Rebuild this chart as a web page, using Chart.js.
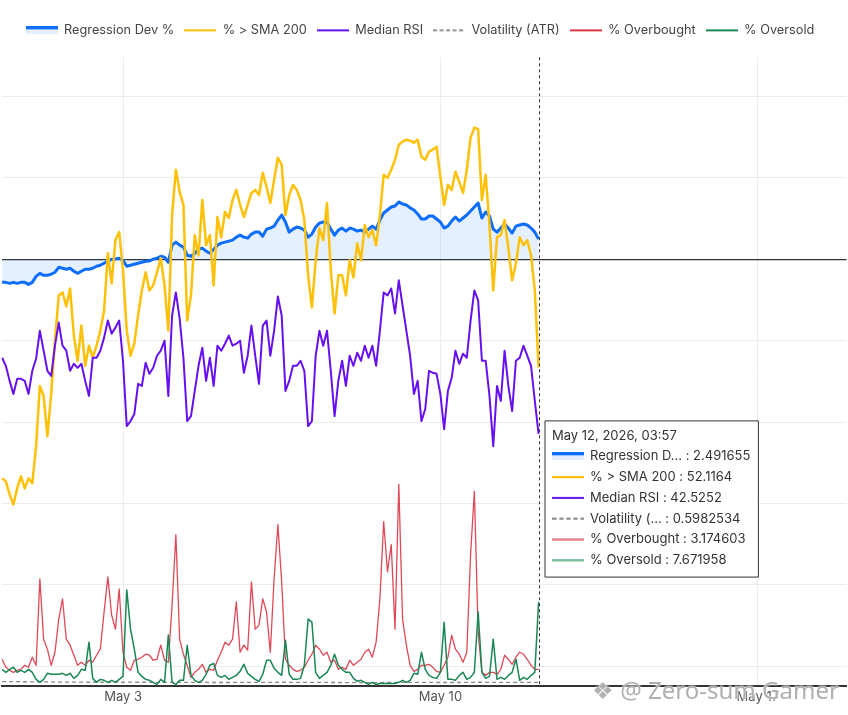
<!DOCTYPE html>
<html>
<head>
<meta charset="utf-8">
<script src="https://cdn.jsdelivr.net/npm/chart.js@4.4.1/dist/chart.umd.min.js"></script>
<style>
html,body{margin:0;padding:0;background:#fff;}
#wrap{position:relative;width:848px;height:715px;overflow:hidden;}
#wm{position:absolute;left:592px;top:673px;font:24px 'Noto Sans',sans-serif;color:rgba(150,150,150,0.75);
 text-shadow:0 0 2px #fff,0 0 2px #fff;pointer-events:none;white-space:nowrap;}
</style>
</head>
<body>
<div id="wrap"><canvas id="c" width="848" height="715"></canvas><div id="wm">❖ @ Zero-sum Gamer</div></div>
<script>
// ---- data (2-hour samples, minutes from May 1 00:00) ----
const startMinute = -963;      // Apr 30, 07:57
const stepMinutes = 120;
const xTickValues = [2880, 12960, 23040];
const xTickLabels = ['May 3', 'May 10', 'May 17'];
const yGridTicks = [-50, -40, -30, -20, -10, 0, 10, 20];

const regressionDev = [
 -2.84,-2.84,-2.96,-2.84,-2.96,-2.84,-2.84,-3.09,-2.84,-2.10,
 -1.73,-1.98,-1.98,-1.85,-1.60,-0.99,-1.11,-1.23,-1.11,-1.48,
 -1.73,-1.48,-1.23,-1.23,-1.11,-0.86,-0.74,-0.49,-0.25,0.00,
 0.02,0.12,-0.12,-0.86,-0.74,-0.62,-0.49,-0.37,-0.25,-0.22,
 0.01,0.12,0.37,0.25,-0.37,1.73,2.10,1.73,1.48,0.49,
 0.37,0.74,1.23,1.36,0.99,0.74,1.23,1.73,1.98,2.10,
 2.22,2.35,2.72,2.96,2.72,2.59,3.09,3.33,3.33,2.84,
 3.70,3.83,4.07,4.81,5.43,4.57,3.33,3.70,3.95,3.83,
 3.58,2.72,3.09,3.95,4.44,4.57,4.57,3.70,2.96,3.58,
 3.83,3.46,3.83,3.70,3.46,3.58,3.33,3.70,4.07,3.70,
 4.81,5.68,6.05,6.42,6.54,7.04,6.79,6.67,6.30,6.05,
 5.56,4.94,4.94,5.31,5.31,4.94,4.57,3.83,4.07,4.69,
 5.19,4.69,5.06,5.43,5.93,6.42,6.91,5.06,5.80,5.31,
 3.70,3.33,3.83,4.32,3.83,3.21,4.07,4.20,4.32,4.20,
 3.83,3.33,2.491655
];
const pctAboveSma200 = [
 36.07,35.64,33.75,32.29,34.62,36.36,34.62,36.07,35.35,40.73,
 49.45,48.00,42.18,48.29,56.00,62.55,62.98,60.95,63.56,56.73,
 53.09,58.18,52.36,55.27,53.53,55.27,57.45,60.36,68.65,64.29,
 70.55,71.71,66.18,57.45,53.82,55.56,59.64,63.27,65.89,63.27,
 64.00,65.89,67.93,64.00,57.45,74.18,80.73,77.53,75.64,58.91,
 62.55,71.27,68.36,76.36,69.82,71.27,64.00,73.89,70.98,74.62,
 73.75,76.36,77.82,75.64,73.89,75.64,77.38,77.82,77.09,80.29,
 78.25,75.93,79.27,82.47,81.45,74.18,77.09,78.55,77.82,76.36,
 73.45,65.45,60.80,67.64,72.29,70.55,75.93,66.18,59.93,65.45,
 65.45,62.55,67.64,65.16,70.11,67.64,72.73,70.98,72.00,69.82,
 74.18,80.00,79.56,80.73,82.18,84.36,84.80,85.09,84.95,84.65,
 85.09,82.62,82.18,83.35,83.64,84.07,79.71,75.64,78.55,77.82,
 80.44,78.98,77.38,80.73,85.38,86.84,86.60,76.36,80.00,72.73,
 63.27,70.98,71.27,73.45,69.38,64.73,67.20,70.98,69.82,70.55,
 68.36,63.27,52.1164
];
const medianRsi = [
 53.53,52.36,50.18,48.29,50.47,50.47,50.18,48.29,51.64,53.38,
 57.45,54.55,51.64,50.91,55.27,58.62,55.27,54.55,51.64,52.65,
 52.07,52.65,50.18,48.00,53.53,53.53,54.55,56.44,58.91,57.02,
 57.89,58.91,53.09,43.64,44.36,45.38,49.75,49.45,52.80,51.20,
 52.07,53.82,54.55,56.00,48.00,59.64,62.98,59.20,53.53,44.36,
 45.09,48.73,52.36,54.98,50.18,53.53,49.45,55.27,54.55,55.56,
 56.73,55.27,55.56,56.00,51.35,53.82,58.18,53.82,49.75,58.18,
 58.91,53.82,57.45,62.40,59.64,48.73,50.18,52.36,52.36,53.09,
 51.64,43.64,44.36,53.82,57.45,55.27,57.45,51.64,45.09,50.18,
 53.09,49.45,53.82,52.36,54.25,53.09,55.27,53.53,55.27,52.36,
 57.45,62.98,62.55,63.56,59.93,64.73,61.09,57.45,53.82,48.29,
 50.18,44.36,46.11,51.64,51.35,51.20,48.29,43.20,48.73,50.62,
 54.55,52.65,54.11,53.53,58.91,63.27,61.82,53.09,53.09,48.00,
 40.73,49.45,47.27,54.55,49.45,45.82,53.09,53.53,55.27,53.82,
 52.36,47.27,42.5252
];
const volatilityAtr = [
 0.72,0.71,0.71,0.70,0.70,0.69,0.69,0.68,0.68,0.67,
 0.67,0.66,0.66,0.66,0.65,0.65,0.65,0.64,0.64,0.64,
 0.63,0.63,0.63,0.62,0.62,0.62,0.62,0.61,0.61,0.61,
 0.61,0.62,0.62,0.63,0.63,0.63,0.62,0.62,0.62,0.61,
 0.61,0.61,0.60,0.60,0.60,0.61,0.62,0.62,0.61,0.61,
 0.60,0.60,0.59,0.59,0.59,0.58,0.58,0.58,0.58,0.58,
 0.58,0.58,0.59,0.59,0.59,0.59,0.60,0.60,0.60,0.61,
 0.61,0.61,0.61,0.62,0.62,0.62,0.61,0.61,0.60,0.60,
 0.60,0.60,0.60,0.59,0.59,0.59,0.59,0.58,0.58,0.58,
 0.57,0.57,0.57,0.57,0.56,0.56,0.56,0.56,0.56,0.56,
 0.57,0.58,0.59,0.60,0.60,0.61,0.61,0.61,0.60,0.60,
 0.60,0.59,0.59,0.59,0.59,0.58,0.58,0.58,0.58,0.58,
 0.58,0.58,0.59,0.59,0.60,0.61,0.62,0.62,0.61,0.61,
 0.61,0.60,0.60,0.60,0.60,0.60,0.60,0.60,0.60,0.60,
 0.60,0.60,0.5982534
];
const pctOverbought = [
 5.04,3.55,2.99,2.61,2.99,3.17,3.92,3.55,5.42,3.92,
 19.98,8.78,6.91,3.92,6.35,12.51,16.25,8.78,7.66,5.79,
 3.92,4.48,3.92,4.86,4.48,5.79,6.91,13.82,20.35,13.26,
 10.64,18.11,6.35,3.55,2.99,4.86,5.04,5.42,5.98,5.79,
 4.86,5.04,7.66,4.86,4.48,15.13,28.20,8.78,5.98,3.92,
 1.68,2.61,3.17,4.11,2.61,3.17,2.99,4.86,6.35,8.22,
 7.66,8.78,15.69,6.35,7.66,6.72,19.42,10.64,11.39,16.25,
 13.82,6.35,19.98,30.07,19.42,5.04,3.92,3.17,2.80,2.99,
 3.55,4.86,5.98,7.66,6.91,5.79,6.35,4.48,4.86,3.17,
 3.55,3.17,4.86,3.92,4.48,5.04,6.35,6.91,5.42,8.22,
 16.25,30.63,21.29,26.33,10.64,37.54,12.51,7.66,3.92,2.80,
 3.17,3.92,3.92,4.11,3.55,2.80,2.61,3.92,5.42,9.52,
 6.91,5.98,4.48,6.35,24.46,36.23,10.08,2.61,2.05,2.61,
 2.61,2.24,3.17,5.79,5.04,4.11,5.42,6.35,5.98,5.04,
 3.92,3.17,3.174603
];
const pctOversold = [
 1.55,1.28,1.55,1.74,1.28,1.46,1.28,1.55,1.28,0.64,
 0.37,0.64,1.19,1.10,1.10,1.10,1.19,1.00,1.19,0.73,
 1.00,1.55,1.46,4.02,0.73,0.37,0.64,0.55,0.37,0.55,
 0.37,0.64,0.91,8.77,5.21,3.38,1.28,0.91,0.64,0.55,
 0.37,0.18,0.64,0.37,4.66,0.37,0.18,0.55,0.55,3.74,
 1.00,0.55,0.37,0.55,1.10,1.92,2.10,1.00,0.82,1.00,
 0.64,0.82,1.00,1.37,2.01,1.19,0.91,0.64,0.46,1.10,
 2.37,2.37,1.64,1.28,1.00,4.20,1.10,0.64,0.64,0.73,
 1.92,6.12,5.84,1.28,0.73,1.00,1.28,1.92,2.92,1.92,
 1.55,1.28,1.28,0.73,0.46,0.55,0.37,0.18,0.37,0.18,
 0.27,0.27,0.27,0.27,0.27,0.37,0.55,0.37,0.55,1.19,
 1.10,3.11,1.55,1.00,0.82,0.73,1.28,5.84,0.64,0.64,
 0.55,1.00,1.28,0.64,0.82,1.28,6.76,1.28,0.73,0.91,
 4.29,0.64,0.82,0.64,1.00,1.28,2.47,0.55,0.82,0.64,
 1.00,1.28,7.671958
];

const times = regressionDev.map((_, i) => startMinute + i * stepMinutes);
const pts = arr => arr.map((v, i) => ({ x: times[i], y: v }));

// ---- legend / tooltip sample icons ----
function icon(w, h, draw) {
  const c = document.createElement('canvas'); c.width = w; c.height = h;
  draw(c.getContext('2d')); return c;
}
function areaIcon(top, fill) {
  return icon(32, 8, g => { g.fillStyle = fill; g.fillRect(0, 0, 32, 8); g.fillStyle = top; g.fillRect(0, 0, 32, 3); });
}
function lineIcon(color, dash) {
  return icon(32, 4, g => {
    g.strokeStyle = color; g.lineWidth = dash ? 1.4 : 2;
    if (dash) g.setLineDash(dash);
    g.beginPath(); g.moveTo(0, 2); g.lineTo(32, 2); g.stroke();
  });
}

function build() {
  const FONT = 'Inter';
  Chart.defaults.font.family = FONT;
  Chart.defaults.font.size = 13;

  const legendIcons = [
    areaIcon('#0d6efd', '#e3edfd'), lineIcon('#ffc107'), lineIcon('#6610f2'),
    lineIcon('#6f6f6f', [4, 2.5]), lineIcon('#dc3545'), lineIcon('#198754')
  ];
  const tipIcons = [
    areaIcon('#0d6efd', '#e3edfd'), lineIcon('#ffc107'), lineIcon('#6a1ff0'),
    lineIcon('#8a8a8a', [4, 3]), lineIcon('#e8848e'), lineIcon('#7fbf9f')
  ];

  const common = { pointRadius: 0, pointHoverRadius: 0, tension: 0, borderJoinStyle: 'round', fill: false };
  const datasets = [
    Object.assign({}, common, { label: 'Regression Dev %', data: pts(regressionDev), yAxisID: 'y',
      borderColor: '#0d6efd', borderWidth: 3, backgroundColor: 'rgba(13,110,253,0.11)', fill: 'origin', order: 5 }),
    Object.assign({}, common, { label: '% > SMA 200', data: pts(pctAboveSma200), yAxisID: 'yA',
      borderColor: '#ffc107', borderWidth: 2.5, order: 3 }),
    Object.assign({}, common, { label: 'Median RSI', data: pts(medianRsi), yAxisID: 'yA',
      borderColor: '#6610f2', borderWidth: 2, order: 2 }),
    Object.assign({}, common, { label: 'Volatility (ATR)', data: pts(volatilityAtr), yAxisID: 'yV',
      borderColor: '#8a8a8a', borderWidth: 1.3, borderDash: [4, 3], order: 4 }),
    Object.assign({}, common, { label: '% Overbought', data: pts(pctOverbought), yAxisID: 'yR',
      borderColor: 'rgba(220,53,69,0.9)', borderWidth: 1.3, order: 1 }),
    Object.assign({}, common, { label: '% Oversold', data: pts(pctOversold), yAxisID: 'yG',
      borderColor: '#198754', borderWidth: 1.5, order: 0 })
  ];

  const pad2 = n => String(n).padStart(2, '0');
  const lastIdx = times.length - 1;

  const crosshair = {
    id: 'crosshair',
    afterDatasetsDraw(chart) {
      const x = chart.scales.x.getPixelForValue(times[lastIdx]);
      const { top, bottom } = chart.chartArea;
      const ctx = chart.ctx;
      ctx.save();
      ctx.strokeStyle = '#333'; ctx.lineWidth = 1; ctx.setLineDash([3, 3]);
      ctx.beginPath(); ctx.moveTo(Math.round(x) + 0.5, top); ctx.lineTo(Math.round(x) + 0.5, bottom); ctx.stroke();
      ctx.restore();
    }
  };
  const legendGap = {
    id: 'legendGap',
    beforeInit(chart) {
      const orig = chart.legend.fit;
      chart.legend.fit = function () { orig.call(this); this.height += 10.5; };
    },
    beforeDraw(chart) {
      // legend row sits a few pixels left of centre in the reference
      chart.legend.left -= 4; chart.legend.right -= 4;
    },
    afterDraw(chart) {
      chart.legend.left += 4; chart.legend.right += 4;
    }
  };

  const chart = new Chart(document.getElementById('c'), {
    type: 'line',
    data: { datasets },
    plugins: [crosshair, legendGap],
    options: {
      responsive: false,
      animation: false,
      events: [],
      layout: { padding: { top: 14, bottom: 7, left: 0, right: 0 } },
      plugins: {
        legend: {
          position: 'top',
          labels: {
            usePointStyle: true, pointStyleWidth: 32, padding: 10, color: '#444',
            font: { family: FONT, size: 12.75 },
            generateLabels: ch => ch.data.datasets.map((ds, i) => ({
              text: ds.label, pointStyle: legendIcons[i], datasetIndex: i, hidden: false,
              lineWidth: 0, strokeStyle: 'rgba(0,0,0,0)', fillStyle: 'rgba(0,0,0,0)', fontColor: '#444'
            }))
          }
        },
        tooltip: {
          enabled: true,
          backgroundColor: '#ffffff', borderColor: '#333', borderWidth: 1, cornerRadius: 0,
          titleColor: '#333', bodyColor: '#333',
          titleFont: { family: FONT, size: 13, weight: 'normal' },
          bodyFont: { family: FONT, size: 13, weight: 'normal' },
          padding: { top: 7, bottom: 9, left: 7, right: 8 },
          titleMarginBottom: 5, bodySpacing: 5.2,
          caretSize: 0, caretPadding: 6, xAlign: 'left', yAlign: 'center',
          displayColors: true, usePointStyle: true, boxWidth: 33, boxHeight: 13, boxPadding: 3,
          multiKeyBackground: 'rgba(0,0,0,0)',
          itemSort: (a, b) => a.datasetIndex - b.datasetIndex,
          callbacks: {
            title: items => {
              const m = items[0].raw.x;
              const d = Math.floor(m / 1440), r = m - d * 1440;
              return 'May ' + (d + 1) + ', 2026, ' + pad2(Math.floor(r / 60)) + ':' + pad2(r % 60);
            },
            label: c => {
              let n = c.dataset.label;
              if (n.length > 12) n = n.slice(0, 12) + '...';
              return n + ' : ' + c.raw.y;
            },
            labelPointStyle: c => ({ pointStyle: tipIcons[c.datasetIndex], rotation: 0 })
          }
        }
      },
      scales: {
        x: {
          type: 'linear', min: -981.1, max: 25856.3,
          afterBuildTicks: s => { s.ticks = xTickValues.map(v => ({ value: v })); },
          ticks: { callback: (v, i) => xTickLabels[i], color: '#555', padding: 3, maxRotation: 0, autoSkip: false,
                   font: { family: FONT, size: 13 } },
          grid: { color: '#ececec', drawTicks: false },
          border: { display: true, color: '#333', width: 2 }
        },
        y: {
          type: 'linear', position: 'left', min: -52.47, max: 24.81,
          afterBuildTicks: s => { s.ticks = yGridTicks.map(v => ({ value: v })); },
          afterFit: s => { s.width = 0; },
          ticks: { display: false },
          grid: {
            drawTicks: false,
            color: c => (c.tick && c.tick.value === 0) ? '#333' : '#ececec',
            lineWidth: c => (c.tick && c.tick.value === 0) ? 1.3 : 1
          },
          border: { display: false }
        },
        yA: { type: 'linear', display: false, min: 5.96, max: 97.02 },
        yR: { type: 'linear', display: false, min: 0, max: 116.9 },
        yG: { type: 'linear', display: false, min: 0, max: 57.17 },
        yV: { type: 'linear', display: false, min: 0, max: 93.57 }
      }
    }
  });

  const active = datasets.map((d, i) => ({ datasetIndex: i, index: lastIdx }));
  chart.tooltip.setActiveElements(active, { x: chart.scales.x.getPixelForValue(times[lastIdx]), y: 500 });
  chart.update();
}

if (document.fonts && document.fonts.load) {
  Promise.all([document.fonts.load('13px Inter'), document.fonts.load('24px "Noto Sans"')]).then(build, build);
} else { build(); }
</script>
</body>
</html>
